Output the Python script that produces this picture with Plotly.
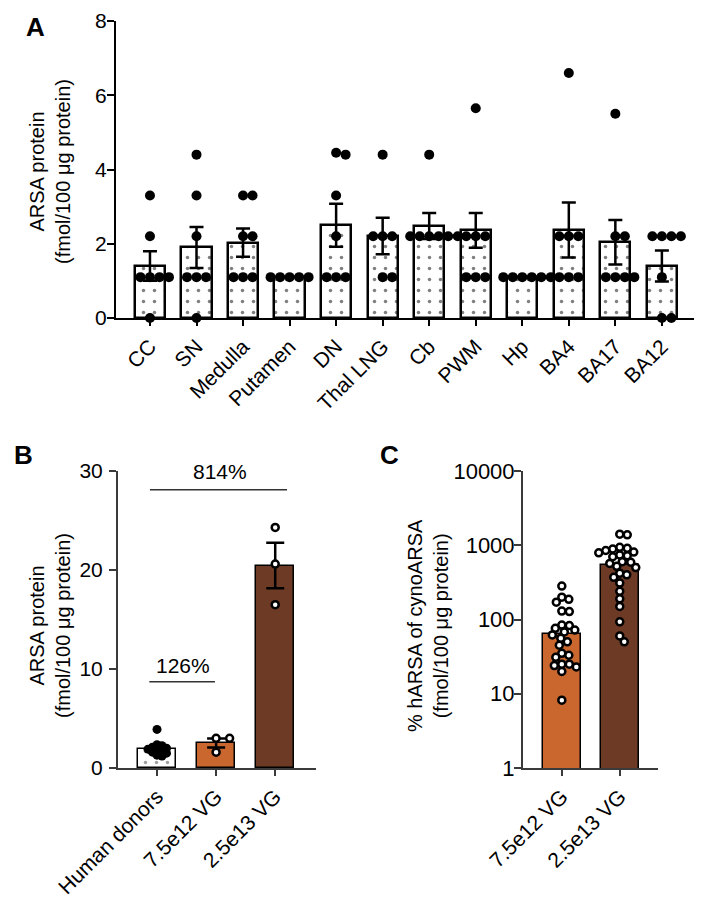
import numpy as np
import plotly.graph_objects as go

W, H = 712, 900

# ---------------- Data ----------------
# Panel A
regions = ["CC", "SN", "Medulla", "Putamen", "DN", "Thal LNG", "Cb", "PWM", "Hp", "BA4", "BA17", "BA12"]
region_mean = [1.40, 1.90, 2.03, 1.10, 2.50, 2.21, 2.48, 2.36, 1.10, 2.37, 2.04, 1.40]
region_sem = [0.40, 0.55, 0.38, 0.0, 0.58, 0.49, 0.35, 0.47, 0.0, 0.74, 0.60, 0.42]
region_points = [
    [3.3, 2.2, 1.1, 1.1, 1.1, 1.1, 0.0],
    [4.4, 3.3, 2.2, 1.1, 1.1, 1.1, 0.0],
    [3.3, 3.3, 2.2, 2.2, 1.1, 1.1, 1.1],
    [1.1, 1.1, 1.1, 1.1, 1.1],
    [4.45, 4.4, 3.3, 2.2, 1.1, 1.1, 1.1],
    [4.4, 2.2, 2.2, 2.2, 1.1, 1.1],
    [4.4, 2.2, 2.2, 2.2, 2.2, 2.2, 2.2],
    [5.65, 2.2, 2.2, 2.2, 1.1, 1.1, 1.1],
    [1.1, 1.1, 1.1, 1.1, 1.1, 1.1],
    [6.6, 2.2, 2.2, 2.2, 1.1, 1.1, 1.1],
    [5.5, 2.2, 2.2, 1.1, 1.1, 1.1, 1.1],
    [2.2, 2.2, 2.2, 2.2, 1.1, 0.0, 0.0],
]
a_ticks = [0, 2, 4, 6, 8]

# Panel B
groups_b = ["Human donors", "7.5e12 VG", "2.5e13 VG"]
mean_b = [1.9, 2.53, 20.45]
sem_b = [0.22, 0.45, 2.3]
points_b = [
    [3.9, 2.35, 2.25, 2.1, 2.0, 1.9, 1.8, 1.7, 1.6, 1.5, 1.3, 1.2],
    [3.0, 3.0, 1.6],
    [24.3, 20.6, 16.5],
]
b_ticks = [0, 10, 20, 30]
b_brackets = [(-0.13, 0.98, 8.7, "126%", 10.4), (-0.12, 2.2, 28.1, "814%", 30.0)]

# Panel C
groups_c = ["7.5e12 VG", "2.5e13 VG"]
mean_c = [63, 540]
points_c = [
    [282, 200, 187, 171, 130, 128, 84, 83, 76, 72, 68, 62, 56, 50, 45, 35, 33, 31, 25, 25, 24, 23, 20, 8.2],
    [1410, 1380, 940, 910, 890, 850, 810, 790, 740, 720, 700, 600, 590, 570, 520, 500,
     420, 400, 370, 310, 240, 190, 150, 93, 60, 50],
]
c_ticks = [1, 10, 100, 1000, 10000]

# ---------------- Layout geometry (pixels) ----------------
FONT = "Arial, Liberation Sans, sans-serif"
ORANGE = "#C9672E"
BROWN = "#6D3A25"
AX_A = "black"
AX_BC = "#3a3a3a"

def px_x(x):
    return x / W

def px_y(y):
    return 1 - y / H

A_x = (116, 694); A_y = (21, 318)
A_xr = [-0.73, len(regions) - 1 + 0.69]
B_x = (118, 316); B_y = (471, 768)
B_xr = [-0.66, 2.69]
C_x = (523, 658); C_y = (471, 768)
C_xr = [-0.67, 1.66]


def swarm(vals, ysc, xsc, d, log=False):
    """beeswarm offsets (data units) given pixel scales."""
    v = np.array(vals, float)
    yp = (np.log10(v) if log else v) * ysc
    order = np.argsort(-yp, kind="stable")
    placed = []
    offs = np.zeros(len(v))
    for i in order:
        best = 0.0
        for step in range(0, 400):
            cands = [0.0] if step == 0 else [step * 0.5, -step * 0.5]
            ok = None
            for c in cands:
                if all((c - px) ** 2 + (yp[i] - py) ** 2 >= (d * 0.95) ** 2 for px, py in placed):
                    ok = c
                    break
            if ok is not None:
                best = ok
                break
        placed.append((best, yp[i]))
        offs[i] = best / xsc
    return offs


DOTS = dict(shape=".", fgcolor="black", bgcolor="white", size=11, solidity=0.08)

fig = go.Figure()

# ---------- Panel A ----------
xa = list(range(len(regions)))
fig.add_trace(go.Bar(
    x=xa, y=region_mean, width=0.65, xaxis="x", yaxis="y",
    marker=dict(color="white", line=dict(color="black", width=2.5), pattern=DOTS),
    error_y=dict(type="data", array=region_sem, visible=True, color="black", thickness=2.5, width=7),
    showlegend=False))
ysc_a = (A_y[1] - A_y[0]) / 8.0
xsc_a = (A_x[1] - A_x[0]) / (A_xr[1] - A_xr[0])
px_all, py_all = [], []
for i, pts in enumerate(region_points):
    offs = swarm(pts, ysc_a, xsc_a, 10)
    px_all += list(i + offs)
    py_all += pts
fig.add_trace(go.Scatter(x=px_all, y=py_all, mode="markers", xaxis="x", yaxis="y",
                         marker=dict(color="black", size=10, line=dict(width=0)),
                         cliponaxis=False, showlegend=False))

# ---------- Panel B ----------
xb = list(range(len(groups_b)))
fig.add_trace(go.Bar(
    x=xb, y=mean_b, width=0.65, xaxis="x2", yaxis="y2",
    marker=dict(color=["white", ORANGE, BROWN], line=dict(color="black", width=1.5),
                pattern=dict(DOTS, shape=[".", "", ""])),
    error_y=dict(type="data", array=sem_b, visible=True, color="black", thickness=2.5, width=9),
    showlegend=False))
ysc_b = (B_y[1] - B_y[0]) / 30.0
xsc_b = (B_x[1] - B_x[0]) / (B_xr[1] - B_xr[0])
swarm_d_b = [5, 14, 9]
for i, pts in enumerate(points_b):
    offs = swarm(pts, ysc_b, xsc_b, swarm_d_b[i])
    if i == 0:
        mk = dict(color="black", size=9, line=dict(width=0))
    else:
        mk = dict(color="white", size=7, line=dict(color="black", width=2.5))
    fig.add_trace(go.Scatter(x=list(i + offs), y=pts, mode="markers", xaxis="x2", yaxis="y2",
                             marker=mk, cliponaxis=False, showlegend=False))

shapes = []
annots = []
for x0, x1, yl, txt, yt in b_brackets:
    shapes.append(dict(type="line", xref="x2", yref="y2", x0=x0, x1=x1, y0=yl, y1=yl,
                       line=dict(color="#333", width=1.5)))
    annots.append(dict(xref="x2", yref="y2", x=(x0 + x1) / 2 + 0.02, y=yt, text=txt, showarrow=False,
                       font=dict(size=21, color="black", family=FONT), xanchor="center", yanchor="middle"))

# ---------- Panel C ----------
xc = list(range(len(groups_c)))
fig.add_trace(go.Bar(
    x=xc, y=mean_c, width=0.65, xaxis="x3", yaxis="y3",
    marker=dict(color=[ORANGE, BROWN], line=dict(color="black", width=1.5)),
    showlegend=False))
ysc_c = (C_y[1] - C_y[0]) / 4.0
xsc_c = (C_x[1] - C_x[0]) / (C_xr[1] - C_xr[0])
for i, pts in enumerate(points_c):
    offs = swarm(pts, ysc_c, xsc_c, 7.5, log=True)
    fig.add_trace(go.Scatter(x=list(i + offs), y=pts, mode="markers", xaxis="x3", yaxis="y3",
                             marker=dict(color="white", size=7, line=dict(color="black", width=2.5)),
                             cliponaxis=False, showlegend=False))

# ---------- Axes ----------
def xax(dom, rng, ticks, labels, color, anchor, fs=21):
    return dict(domain=[px_x(dom[0]), px_x(dom[1])], range=rng, tickmode="array", tickvals=ticks,
                ticktext=labels, tickangle=-45, showline=True, linecolor=color, linewidth=2,
                ticks="outside", ticklen=6, tickwidth=2, tickcolor=color, showgrid=False,
                zeroline=False, tickfont=dict(size=fs, color="black", family=FONT), anchor=anchor,
                fixedrange=True, automargin=False)

def yax(dom, rng, ticks, color, anchor, typ="linear", fs=21, standoff=0):
    return dict(domain=[px_y(dom[1]), px_y(dom[0])], range=rng, type=typ, tickmode="array",
                tickvals=ticks, ticktext=[str(t) for t in ticks], showline=True, linecolor=color,
                linewidth=2, ticks="outside", ticklen=7, tickwidth=2, tickcolor=color,
                showgrid=False, zeroline=False, tickfont=dict(size=fs, color="black", family=FONT),
                anchor=anchor, fixedrange=True, automargin=False, ticklabelstandoff=standoff)

layout = dict(
    width=W, height=H, margin=dict(l=0, r=0, t=0, b=0, pad=0, autoexpand=False),
    paper_bgcolor="white", plot_bgcolor="white", font=dict(family=FONT, color="black"),
    bargap=0, showlegend=False,
    xaxis=xax(A_x, A_xr, xa, regions, AX_A, "y"),
    yaxis=yax(A_y, [0, 8], a_ticks, AX_A, "x", standoff=-4),
    xaxis2=xax(B_x, B_xr, xb, groups_b, AX_BC, "y2"),
    yaxis2=yax(B_y, [0, 30], b_ticks, AX_BC, "x2", standoff=2),
    xaxis3=xax(C_x, C_xr, xc, groups_c, AX_BC, "y3"),
    yaxis3=yax(C_y, [0, 4], c_ticks, AX_BC, "x3", typ="log", fs=22, standoff=-5),
)

titlefont = dict(size=20, color="black", family=FONT)
annots += [
    dict(xref="paper", yref="paper", x=px_x(50), y=px_y(172), text="ARSA protein<br>(fmol/100 μg protein)",
         textangle=-90, showarrow=False, font=titlefont, xanchor="center", yanchor="middle"),
    dict(xref="paper", yref="paper", x=px_x(50), y=px_y(626), text="ARSA protein<br>(fmol/100 μg protein)",
         textangle=-90, showarrow=False, font=titlefont, xanchor="center", yanchor="middle"),
    dict(xref="paper", yref="paper", x=px_x(428), y=px_y(626), text="% hARSA of cynoARSA<br>(fmol/100 μg protein)",
         textangle=-90, showarrow=False, font=titlefont, xanchor="center", yanchor="middle"),
    dict(xref="paper", yref="paper", x=px_x(35), y=px_y(27), text="<b>A</b>", showarrow=False,
         font=dict(size=26, color="black", family=FONT), xanchor="center", yanchor="middle"),
    dict(xref="paper", yref="paper", x=px_x(23), y=px_y(455), text="<b>B</b>", showarrow=False,
         font=dict(size=26, color="black", family=FONT), xanchor="center", yanchor="middle"),
    dict(xref="paper", yref="paper", x=px_x(389), y=px_y(455), text="<b>C</b>", showarrow=False,
         font=dict(size=26, color="black", family=FONT), xanchor="center", yanchor="middle"),
]
layout["annotations"] = annots
layout["shapes"] = shapes
fig.update_layout(**layout)

fig.write_html("out.html", config={"displayModeBar": False})
